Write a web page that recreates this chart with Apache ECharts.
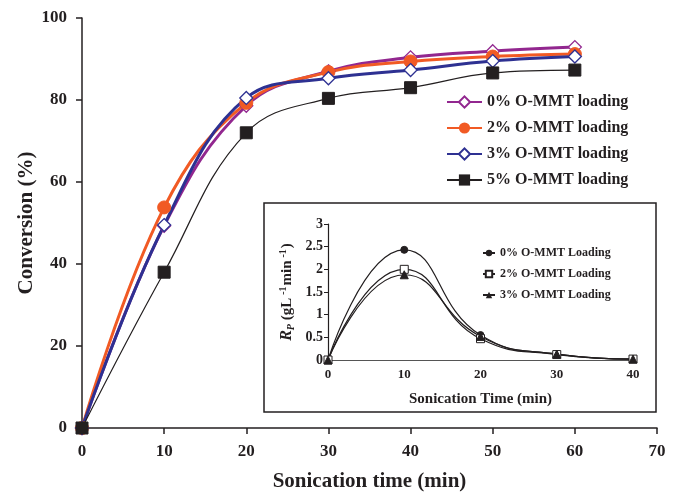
<!DOCTYPE html>
<html><head><meta charset="utf-8">
<script src="https://cdn.jsdelivr.net/npm/echarts@6/dist/echarts.min.js"></script>
<style>html,body{margin:0;padding:0;background:#fff}#c{width:678px;height:494px}</style>
</head><body><div id="c"></div>
<script>
const mainTimes = [0, 10, 20, 30, 40, 50, 60];
const conv0 = [0, 49.3, 78.6, 87.0, 90.4, 91.9, 92.9];
const conv2 = [0, 53.8, 79.3, 86.8, 89.4, 90.6, 91.2];
const conv3 = [0, 49.5, 80.5, 85.3, 87.3, 89.5, 90.6];
const conv5 = [0, 38.0, 72.0, 80.4, 83.0, 86.6, 87.3];
const mainNames = ['0% O-MMT loading', '2% O-MMT loading', '3% O-MMT loading', '5% O-MMT loading'];

const insetTimes = [0, 10, 20, 30, 40];
const rp0 = [0, 2.43, 0.55, 0.13, 0.02];
const rp2 = [0, 2.00, 0.47, 0.12, 0.02];
const rp3 = [0, 1.88, 0.52, 0.13, 0.02];
const insetNames = ['0% O-MMT Loading', '2% O-MMT Loading', '3% O-MMT Loading'];

const F = 'Liberation Serif';
const C = '#231f20';
const pair = (xs, ys) => xs.map((x, i) => [x, ys[i]]);
const chart = echarts.init(document.getElementById('c'));
chart.setOption({
  animation: false,
  backgroundColor: '#fff',
  textStyle: {fontFamily: F},
  graphic: [{type: 'rect', z: 1, shape: {x: 264, y: 203, width: 392, height: 209},
    style: {fill: '#fff', stroke: C, lineWidth: 1.5}}],
  grid: [
    {left: 82, right: 21, top: 18, bottom: 66, outerBoundsMode: 'none', containLabel: false},
    {left: 328, right: 45, top: 224, bottom: 134, outerBoundsMode: 'none', containLabel: false}
  ],
  legend: [
    {data: mainNames, orient: 'vertical', left: 446, top: 94, padding: 0, itemGap: 10, itemWidth: 35, itemHeight: 14,
     textStyle: {fontFamily: F, fontSize: 16, fontWeight: 'bold', color: C}},
    {data: insetNames, orient: 'vertical', left: 482, top: 247, padding: 0, itemGap: 9, itemWidth: 12, itemHeight: 8, z: 12,
     textStyle: {fontFamily: F, fontSize: 12, fontWeight: 'bold', color: C}}
  ],
  xAxis: [
    {gridIndex: 0, type: 'value', min: 0, max: 70, interval: 10, splitLine: {show: false},
      axisLine: {show: true, lineStyle: {color: C, width: 1.5}},
      axisTick: {show: true, length: 6, lineStyle: {color: C, width: 1.5}},
      axisLabel: {fontFamily: F, fontSize: 17, fontWeight: 'bold', color: C, margin: 15},
      name: 'Sonication time (min)', nameLocation: 'middle', nameGap: 43,
      nameTextStyle: {fontFamily: F, fontSize: 21, fontWeight: 'bold', color: C}},
    {gridIndex: 1, type: 'value', min: 0, max: 40, interval: 10, z: 10, splitLine: {show: false},
      axisLine: {show: true, lineStyle: {color: '#555', width: 1.2}},
      axisTick: {show: false},
      axisLabel: {fontFamily: F, fontSize: 13, fontWeight: 'bold', color: C, margin: 8},
      name: 'Sonication Time (min)', nameLocation: 'middle', nameGap: 32,
      nameTextStyle: {fontFamily: F, fontSize: 15, fontWeight: 'bold', color: C}}
  ],
  yAxis: [
    {gridIndex: 0, type: 'value', min: 0, max: 100, interval: 20, splitLine: {show: false},
      axisLine: {show: true, lineStyle: {color: C, width: 1.5}},
      axisTick: {show: true, length: 6, lineStyle: {color: C, width: 1.5}},
      axisLabel: {fontFamily: F, fontSize: 17, fontWeight: 'bold', color: C, margin: 15},
      name: 'Conversion (%)', nameLocation: 'middle', nameGap: 45, nameRotate: 90, nameMoveOverlap: false,
      nameTextStyle: {fontFamily: F, fontSize: 21, fontWeight: 'bold', color: C}},
    {gridIndex: 1, type: 'value', min: 0, max: 3, interval: 0.5, z: 10, splitLine: {show: false},
      axisLine: {show: true, lineStyle: {color: C, width: 1.2}},
      axisTick: {show: true, length: 4, lineStyle: {color: C, width: 1}},
      axisLabel: {fontFamily: F, fontSize: 14, fontWeight: 'bold', color: C, margin: 5},
      name: '{i|R}{s|P} {b|(gL}{sup|-1}{b|min}{sup|-1}{b|)}', nameLocation: 'middle', nameGap: 32, nameRotate: 90, nameMoveOverlap: false,
      nameTextStyle: {fontFamily: F, fontSize: 15, fontWeight: 'bold', color: C,
        rich: {
          i: {fontFamily: F, fontSize: 16, fontStyle: 'italic', fontWeight: 'bold', color: C},
          s: {fontFamily: F, fontSize: 10, fontStyle: 'italic', fontWeight: 'bold', color: C, verticalAlign: 'bottom', padding: [4, 0, 0, 0]},
          b: {fontFamily: F, fontSize: 15, fontWeight: 'bold', color: C},
          sup: {fontFamily: F, fontSize: 10, fontWeight: 'bold', color: C, verticalAlign: 'top', padding: [0, 1, 8, 3]}
        }}}
  ],
  series: [
    {name: mainNames[0], type: 'line', xAxisIndex: 0, yAxisIndex: 0, smooth: 0.4, z: 3,
     data: pair(mainTimes, conv0), symbol: 'diamond', symbolSize: 13, color: '#92278f',
     lineStyle: {width: 3, color: '#92278f'}, itemStyle: {color: '#fff', borderColor: '#92278f', borderWidth: 1.3}},
    {name: mainNames[1], type: 'line', xAxisIndex: 0, yAxisIndex: 0, smooth: 0.4, z: 3,
     data: pair(mainTimes, conv2), symbol: 'circle', symbolSize: 13, color: '#f15a24',
     lineStyle: {width: 3, color: '#f15a24'}, itemStyle: {color: '#f15a24', borderColor: '#f15a24'}},
    {name: mainNames[2], type: 'line', xAxisIndex: 0, yAxisIndex: 0, smooth: 0.4, z: 3,
     data: pair(mainTimes, conv3), symbol: 'diamond', symbolSize: 13, color: '#2e3192',
     lineStyle: {width: 3, color: '#2e3192'}, itemStyle: {color: '#fff', borderColor: '#2e3192', borderWidth: 1.3}},
    {name: mainNames[3], type: 'line', xAxisIndex: 0, yAxisIndex: 0, smooth: 0.4, z: 3,
     data: pair(mainTimes, conv5), symbol: 'rect', symbolSize: 12, color: C,
     lineStyle: {width: 1.2, color: C}, itemStyle: {color: C, borderColor: C}},
    {name: insetNames[0], type: 'line', xAxisIndex: 1, yAxisIndex: 1, smooth: 0.5, z: 11,
     data: pair(insetTimes, rp0), symbol: 'circle', symbolSize: 7, color: C,
     lineStyle: {width: 1.2, color: C}, itemStyle: {color: C, borderColor: C}},
    {name: insetNames[1], type: 'line', xAxisIndex: 1, yAxisIndex: 1, smooth: 0.5, z: 11,
     data: pair(insetTimes, rp2), symbol: 'rect', symbolSize: 8, color: C,
     lineStyle: {width: 1.2, color: C}, itemStyle: {color: '#fff', borderColor: C, borderWidth: 1}},
    {name: insetNames[2], type: 'line', xAxisIndex: 1, yAxisIndex: 1, smooth: 0.5, z: 11,
     data: pair(insetTimes, rp3), symbol: 'triangle', symbolSize: 8, color: C,
     lineStyle: {width: 1.2, color: C}, itemStyle: {color: C, borderColor: C}}
  ]
});
</script></body></html>
